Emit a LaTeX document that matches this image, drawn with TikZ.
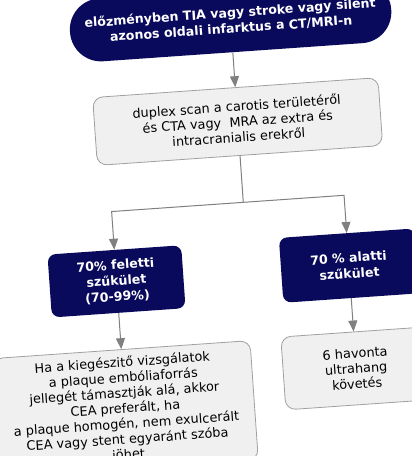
\documentclass[tikz,border=0pt]{standalone}
\usepackage{fontspec}
\setmainfont{DejaVu Sans}
\usetikzlibrary{arrows.meta}
\definecolor{navy}{RGB}{10,10,92}
\definecolor{lightgr}{RGB}{240,240,240}
\definecolor{bordergr}{RGB}{160,160,160}
\definecolor{arrowgr}{RGB}{128,128,128}
\begin{document}
\begin{tikzpicture}[x=1pt,y=-1pt,
  darkbox/.style={fill=navy, text=white, font=\bfseries\fontsize{12.6}{15.8}\selectfont, align=center, rounded corners=8pt, inner sep=0pt},
  lightbox/.style={fill=lightgr, draw=bordergr, line width=0.8pt, font=\fontsize{12.9}{15.4}\selectfont, align=center, rounded corners=10pt, inner sep=0pt},
  conn/.style={draw=arrowgr, line width=1pt},
  arr/.style={conn, -{Triangle[width=9pt,length=11pt]}}]
\useasboundingbox (0,0) rectangle (412,456);
\clip (0,0) rectangle (412,456);
\fill[white] (0,0) rectangle (412,456);
\begin{scope}[rotate around={4:(206,228)}, transform shape]
\node[darkbox, minimum width=322pt, minimum height=63pt, rounded corners=31pt] (top) at (245,23)
  {előzményben TIA vagy stroke vagy silent\\azonos oldali infarktus a CT/MRI-n};
\node[lightbox, minimum width=286pt, minimum height=68pt] (box2) at (245,124)
  {duplex scan a carotis területéről\\és CTA vagy\ \ MRA az extra és\\intracranialis erekről};
\coordinate (split) at (245,205);
\coordinate (lsplit) at (113,205);
\coordinate (rsplit) at (346,205);
\node[darkbox, minimum width=134pt, minimum height=63pt] (ldark) at (113,275)
  {70\% feletti\\szűkület\\(70-99\%)};
\node[darkbox, minimum width=136pt, minimum height=65pt] (rdark) at (346,275.5)
  {70 \% alatti\\szűkület};
\node[lightbox, minimum width=258pt, inner ysep=7pt, anchor=north] (lbot) at (113,343)
  {Ha a kiegészitő vizsgálatok\\a plaque embóliaforrás\\jellegét támasztják alá, akkor\\CEA preferált, ha\\a plaque homogén, nem exulcerált\\CEA vagy stent egyaránt szóba\\jöhet};
\node[lightbox, minimum width=146pt, minimum height=73pt] (rlight) at (346,378.5)
  {6 havonta\\ultrahang\\követés};
\draw[arr] (top.south) -- (box2.north);
\draw[conn] (box2.south) -- (split);
\draw[arr] (split) -- (lsplit) -- (ldark.north);
\draw[arr] (split) -- (rsplit) -- (rdark.north);
\draw[arr] (ldark.south) -- (lbot.north);
\draw[arr] (rdark.south) -- (rlight.north);
\end{scope}
\end{tikzpicture}
\end{document}
